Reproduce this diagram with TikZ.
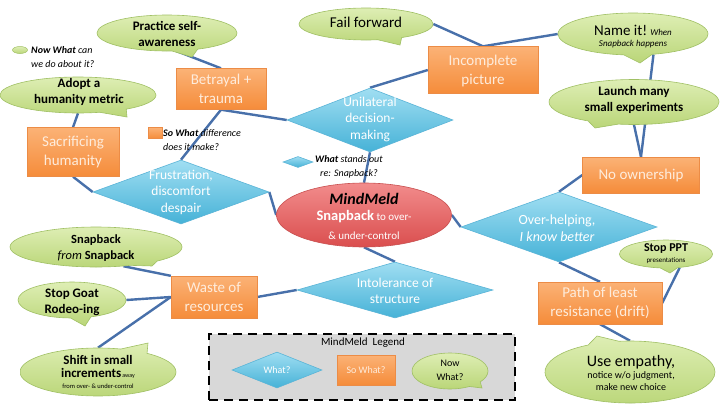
\documentclass[tikz,border=0pt]{standalone}
\usepackage{fontspec}
\setmainfont{Carlito}
\usetikzlibrary{shapes.geometric,shapes.callouts,backgrounds}
\definecolor{orT}{RGB}{251,178,118}
\definecolor{orB}{RGB}{245,140,58}
\definecolor{orD}{RGB}{236,140,70}
\definecolor{orTx}{RGB}{254,236,220}
\definecolor{blT}{RGB}{160,222,242}
\definecolor{blB}{RGB}{70,178,215}
\definecolor{blD}{RGB}{90,180,215}
\definecolor{grT}{RGB}{222,238,180}
\definecolor{grB}{RGB}{186,214,120}
\definecolor{grD}{RGB}{160,192,100}
\definecolor{rdT}{RGB}{242,140,140}
\definecolor{rdB}{RGB}{218,78,78}
\definecolor{rdD}{RGB}{200,80,80}
\definecolor{conn}{RGB}{72,112,170}
\definecolor{leg}{RGB}{216,216,216}
\tikzset{
  obox/.style={rectangle, top color=orT, bottom color=orB, draw=orD, line width=0.4pt, inner sep=0pt},
  bdiam/.style={diamond, top color=blT, bottom color=blB, draw=blD, line width=0.6pt, inner sep=0pt},
  gcall/.style={ellipse callout, top color=grT, bottom color=grB, draw=grD, line width=0.6pt, inner sep=0pt, callout pointer arc=22},
  rell/.style={ellipse, top color=rdT, bottom color=rdB, draw=rdD, line width=0.6pt, inner sep=0pt},
  otext/.style={text=orTx, align=center, inner sep=0pt, font=\fontsize{15}{19}\selectfont},
  btext/.style={text=white, align=center, inner sep=0pt, font=\fontsize{13.5}{16.5}\selectfont},
  gtext/.style={text=black, align=center, inner sep=0pt, font=\bfseries\fontsize{13}{16}\selectfont},
  stext/.style={text=black, align=left, inner sep=0pt, font=\itshape\fontsize{10}{13.5}\selectfont},
  cn/.style={draw=conn, line width=2.4pt},
}
\begin{document}
\begin{tikzpicture}[x=1pt,y=-1pt]
\useasboundingbox (0,0) rectangle (720,405);

% ---- legend-like small samples
\node[ellipse, top color=grT, bottom color=grB, draw=grD, line width=0.5pt, minimum width=15pt, minimum height=7pt, inner sep=0pt] (nwS) at (20,50) {};
\node[stext, anchor=west] (nwT) at (31,57) {\textbf{Now What} can\\we do about it?};
\node[rectangle, top color=orT, bottom color=orB, draw=orD, line width=0.4pt, minimum width=14pt, minimum height=11pt, inner sep=0pt] (swS) at (155,133) {};
\node[stext, anchor=west] (swT) at (163,140) {\textbf{So What} difference\\does it make?};
\node[bdiam, minimum width=30pt, minimum height=11pt] (wsS) at (298,162) {};
\node[stext, align=center, anchor=west] (wsT) at (315,167) {\textbf{What} stands out\\re: Snapback?};

% ---- green callouts
\node[gcall, minimum width=140pt, minimum height=36pt, callout absolute pointer={(192,57)}] (self) at (167,33) {};
\node[gtext] (selfT) at (167,34) {Practice self-\\awareness};
\node[gcall, minimum width=156pt, minimum height=36pt, callout absolute pointer={(127,117)}] (adopt) at (78,95) {};
\node[gtext] (adoptT) at (79,92) {Adopt a\\humanity metric};
\node[gcall, minimum width=134pt, minimum height=32pt, callout absolute pointer={(400,45)}] (fail) at (366,24) {};
\node[font=\fontsize{15}{18}\selectfont, inner sep=0pt] (failT) at (366,22) {Fail forward};
\node[gcall, minimum width=150pt, minimum height=42pt, callout absolute pointer={(640,63)}] (name) at (633,34) {};
\node[align=center, inner sep=0pt] (nameT) at (633,37) {{\fontsize{15}{17}\selectfont Name it!} {\itshape\fontsize{9}{11}\selectfont When}\\[-1pt]{\itshape\fontsize{9}{11}\selectfont Snapback happens}};
\node[gcall, minimum width=170pt, minimum height=45pt, callout absolute pointer={(595,128)}] (launch) at (634,102) {};
\node[gtext] (launchT) at (634,100) {Launch many\\small experiments};
\node[gcall, minimum width=93pt, minimum height=28pt, callout absolute pointer={(670,273)}] (ppt) at (666,254) {};
\node[align=center, inner sep=0pt] (pptT) at (666,254) {{\bfseries\fontsize{12}{13}\selectfont Stop PPT}\\[-1pt]{\fontsize{7}{8}\selectfont presentations}};
\node[gcall, minimum width=170pt, minimum height=62pt, callout absolute pointer={(597,336)}] (emp) at (630,372) {};
\node[align=center, inner sep=0pt] (empT) at (631,373) {{\fontsize{16}{18}\selectfont Use empathy,}\\{\fontsize{10}{11}\selectfont notice w/o judgment,}\\{\fontsize{10}{11}\selectfont make new choice}};
\node[gcall, minimum width=172pt, minimum height=40pt, callout absolute pointer={(152,266)}] (snap) at (96,247) {};
\node[gtext, font=\bfseries\fontsize{12.5}{16}\selectfont] (snapT) at (96,248) {Snapback\\{\mdseries\itshape from} Snapback};
\node[gcall, minimum width=108pt, minimum height=36pt, callout absolute pointer={(85,326)}] (goat) at (72,300) {};
\node[gtext] (goatT) at (72,302) {Stop Goat\\Rodeo-ing};
\node[gcall, minimum width=156pt, minimum height=48pt, callout absolute pointer={(148,343)}] (shift) at (98,372) {};
\node[align=center, inner sep=0pt] (shiftT) at (98,372) {{\bfseries\fontsize{13}{14}\selectfont Shift in small}\\[1pt]{\bfseries\fontsize{13}{14}\selectfont increments}{\fontsize{6}{7}\selectfont\,away}\\[-1pt]{\fontsize{6.5}{7}\selectfont from over- \& under-control}};

% ---- orange boxes
\node[obox, minimum width=90pt, minimum height=41pt] (betr) at (221,89) {};
\node[otext] (betrT) at (221,89) {Betrayal +\\trauma};
\node[obox, minimum width=92pt, minimum height=49pt] (sacr) at (73,152) {};
\node[otext] (sacrT) at (73,152) {Sacrificing\\humanity};
\node[obox, minimum width=110pt, minimum height=47pt] (incomp) at (483,70) {};
\node[otext] (incompT) at (483,71) {Incomplete\\picture};
\node[obox, minimum width=117pt, minimum height=36pt] (noown) at (641,175) {};
\node[otext] (noownT) at (641,175) {No ownership};
\node[obox, minimum width=124pt, minimum height=42pt] (path) at (600,303) {};
\node[otext] (pathT) at (600,303) {Path of least\\resistance (drift)};
\node[obox, minimum width=86pt, minimum height=42pt] (waste) at (214,297) {};
\node[otext] (wasteT) at (214,297) {Waste of\\resources};

% ---- blue diamonds
\node[bdiam, minimum width=176pt, minimum height=64pt] (frus) at (181,192) {};
\node[btext] (frusT) at (181,192) {Frustration,\\discomfort\\despair};
\node[bdiam, minimum width=166pt, minimum height=64pt] (unil) at (370,120) {};
\node[btext] (unilT) at (370,119) {Unilateral\\decision-\\making};
\node[bdiam, minimum width=196pt, minimum height=70pt] (over) at (559,227) {};
\node[btext, font=\fontsize{14}{16.5}\selectfont] (overT) at (557,228) {Over-helping,\\\itshape I know better};
\node[bdiam, minimum width=196pt, minimum height=56pt] (intol) at (395,290) {};
\node[btext] (intolT) at (395,291) {Intolerance of\\structure};

% ---- central red ellipse
\node[rell, minimum width=175pt, minimum height=64pt] (mind) at (364,215) {};
\node[inner sep=0pt, font=\bfseries\itshape\fontsize{16}{18}\selectfont] (mindT1) at (364,199) {MindMeld};
\node[inner sep=0pt, text=white] (mindT2) at (364,217) {{\bfseries\fontsize{14.5}{17}\selectfont Snapback}{\fontsize{11}{13}\selectfont\ to over-}};
\node[inner sep=0pt, text=white, font=\fontsize{11}{13}\selectfont] (mindT3) at (364,236) {\& under-control};

% ---- legend box
\node[draw=black, dash pattern=on 9pt off 6pt, line width=2.6pt, fill=leg, minimum width=306pt, minimum height=66pt, inner sep=0pt] (legbox) at (362,367) {};
\node[inner sep=0pt, font=\fontsize{11}{13}\selectfont] (legT) at (363,343) {MindMeld\ \ Legend};
\node[bdiam, minimum width=90pt, minimum height=36pt] (legW) at (277,370) {};
\node[text=white, inner sep=0pt, font=\fontsize{10}{12}\selectfont] (legWT) at (277,370) {What?};
\node[obox, minimum width=58pt, minimum height=30pt] (legS) at (366,370) {};
\node[text=orTx, inner sep=0pt, font=\fontsize{10}{12}\selectfont] (legST) at (366,370) {So What?};
\node[gcall, minimum width=76pt, minimum height=36pt, callout absolute pointer={(482,388)}] (legN) at (450,371) {};
\node[align=center, inner sep=0pt, font=\fontsize{10}{14}\selectfont] (legNT) at (450,370) {Now\\What?};

% ---- connectors
\begin{scope}[on background layer]
\fill[white] (0,0) rectangle (720,405);
\draw[cn] (self.-62) -- (betr.north);
\draw[cn] (adopt.south) -- (sacr.north);
\draw[cn] (betr.south) -- (frus.north);
\draw[cn] (betr.south) -- (unil.west);
\draw[cn] (sacr.south) -- (frus.west);
\draw[cn] (fail.east) -- (incomp.north);
\draw[cn] (name.west) -- (incomp.north);
\draw[cn] (incomp.west) -- (unil.north);
\draw[cn] (name.-45) -- (noown.north);
\draw[cn] (launch.south) -- (noown.north);
\draw[cn] (unil.south) -- (mind.north);
\draw[cn] (frus.east) -- (mind.west);
\draw[cn] (mind.east) -- (over.west);
\draw[cn] (mind.south) -- (intol.north);
\draw[cn] (noown.west) -- (over.north);
\draw[cn] (over.south) -- (path.north);
\draw[cn] (ppt.-45) -- (path.east);
\draw[cn] (path.south) -- (emp.north);
\draw[cn] (snap.-35) -- (waste.north west);
\draw[cn] (goat.east) -- (waste.west);
\draw[cn] (waste.west) -- (shift.north);
\draw[cn] (waste.east) -- (intol.west);
\end{scope}
\end{tikzpicture}
\end{document}
